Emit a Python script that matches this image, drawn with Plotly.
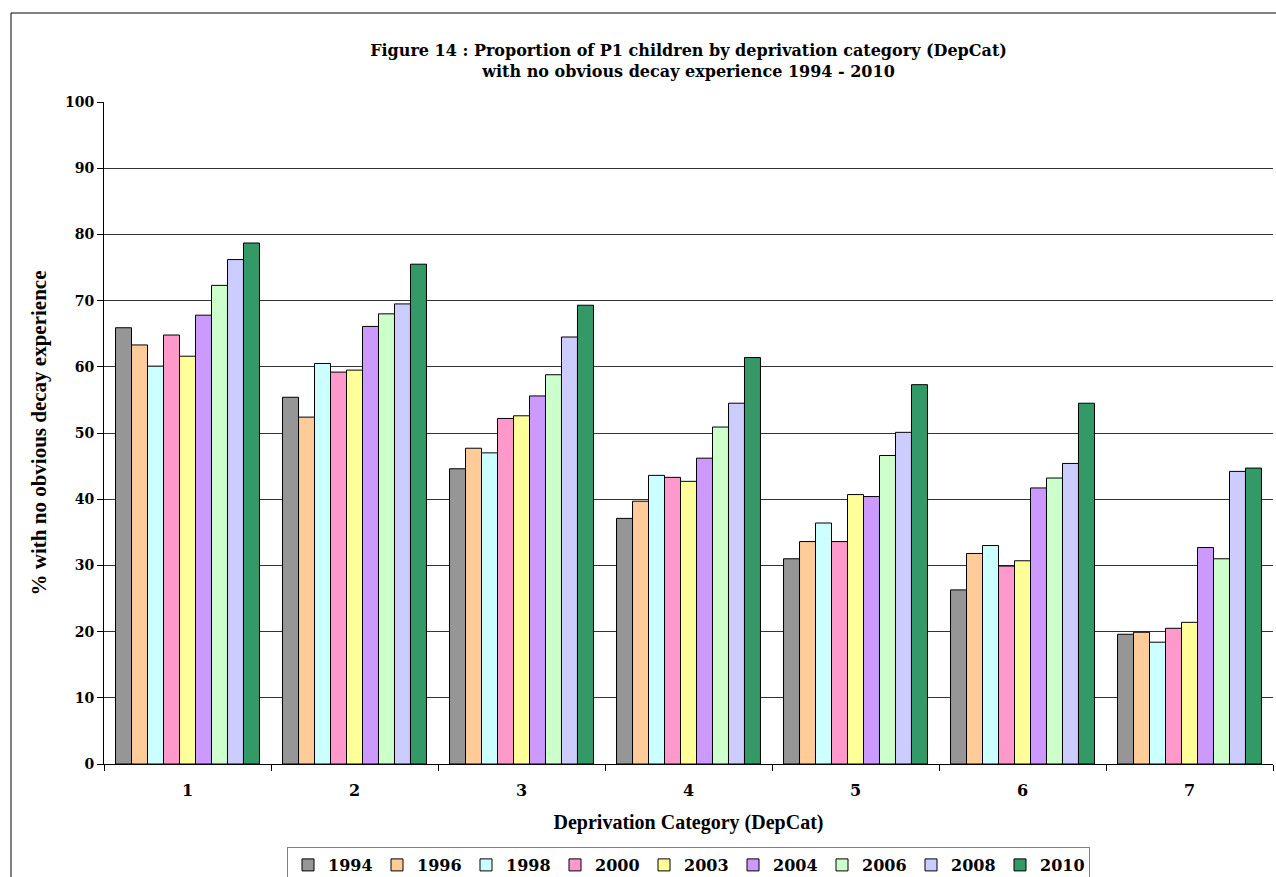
import plotly.graph_objects as go

# Deprivation categories on the x axis
categories = ["1", "2", "3", "4", "5", "6", "7"]

# Survey years (one bar series each)
years = ["1994", "1996", "1998", "2000", "2003", "2004", "2006", "2008", "2010"]

# % with no obvious decay experience, per year, across DepCat 1..7
pct_1994 = [65.9, 55.4, 44.6, 37.1, 31.0, 26.3, 19.6]
pct_1996 = [63.3, 52.4, 47.7, 39.7, 33.6, 31.8, 19.9]
pct_1998 = [60.1, 60.5, 47.0, 43.6, 36.4, 33.0, 18.4]
pct_2000 = [64.8, 59.2, 52.2, 43.3, 33.6, 29.9, 20.5]
pct_2003 = [61.6, 59.5, 52.6, 42.7, 40.7, 30.7, 21.4]
pct_2004 = [67.8, 66.1, 55.6, 46.2, 40.4, 41.7, 32.7]
pct_2006 = [72.3, 68.0, 58.8, 50.9, 46.6, 43.2, 31.0]
pct_2008 = [76.2, 69.5, 64.5, 54.5, 50.1, 45.4, 44.2]
pct_2010 = [78.7, 75.5, 69.3, 61.4, 57.3, 54.5, 44.7]

series = [pct_1994, pct_1996, pct_1998, pct_2000, pct_2003,
          pct_2004, pct_2006, pct_2008, pct_2010]

colors = ["#969696", "#FFCC99", "#CCFFFF", "#FF99CC", "#FFFF99",
          "#CC99FF", "#CCFFCC", "#CCCCFF", "#339966"]

SERIF_WIDE = "DejaVu Serif"
SERIF = "Liberation Serif"

fig = go.Figure()
for year, vals, col in zip(years, series, colors):
    fig.add_trace(go.Bar(
        x=categories, y=vals, name=year,
        marker=dict(color=col, line=dict(color="#000000", width=1)),
    ))

fig.update_layout(
    width=1276, height=877,
    margin=dict(l=104, r=3, t=102, b=113, pad=0, autoexpand=False),
    paper_bgcolor="white", plot_bgcolor="white",
    barmode="group", bargap=0.138, bargroupgap=0,
    title=dict(
        text="Figure 14 : Proportion of P1 children by deprivation category (DepCat)"
             "<br>with no obvious decay experience 1994 - 2010",
        x=0.5, xref="paper", xanchor="center",
        y=1 - 56 / 877, yref="container", yanchor="top",
        font=dict(family=SERIF_WIDE, size=16, color="black", weight="bold"),
    ),
    legend=dict(
        orientation="h", x=0.5, xanchor="center", xref="paper",
        y=(764 - 847) / 662, yanchor="top", yref="paper",
        font=dict(family=SERIF_WIDE, size=16, color="black", weight="bold"),
        bordercolor="#808080", borderwidth=1,
        itemwidth=30, entrywidth=44, entrywidthmode="pixels",
        traceorder="normal",
    ),
    xaxis=dict(
        type="category", tickson="boundaries",
        showline=True, linecolor="black", linewidth=1,
        ticks="outside", ticklen=6, tickcolor="black",
        ticklabelstandoff=12,
        tickfont=dict(family=SERIF_WIDE, size=16, color="black", weight="bold"),
        title=dict(text="Deprivation Category (DepCat)", standoff=15,
                   font=dict(family=SERIF, size=20, color="black", weight="bold")),
        showgrid=False,
    ),
    yaxis=dict(
        range=[0, 100], dtick=10, tick0=0,
        showline=True, linecolor="black", linewidth=1,
        ticks="outside", ticklen=6, tickcolor="black",
        showgrid=True, gridcolor="#333333", gridwidth=1,
        tickfont=dict(family=SERIF_WIDE, size=14, color="black", weight="bold"),
        title=dict(text="% with no obvious decay experience", standoff=12,
                   font=dict(family=SERIF, size=21, color="black", weight="bold")),
        zeroline=False,
    ),
    shapes=[dict(
        type="rect", xref="paper", yref="paper",
        x0=(11 - 104) / 1169, x1=1.05,
        y0=-0.3, y1=1 + (102 - 13) / 662,
        line=dict(color="black", width=1), fillcolor="rgba(0,0,0,0)",
        layer="below",
    )],
)

fig.write_html("out.html")
